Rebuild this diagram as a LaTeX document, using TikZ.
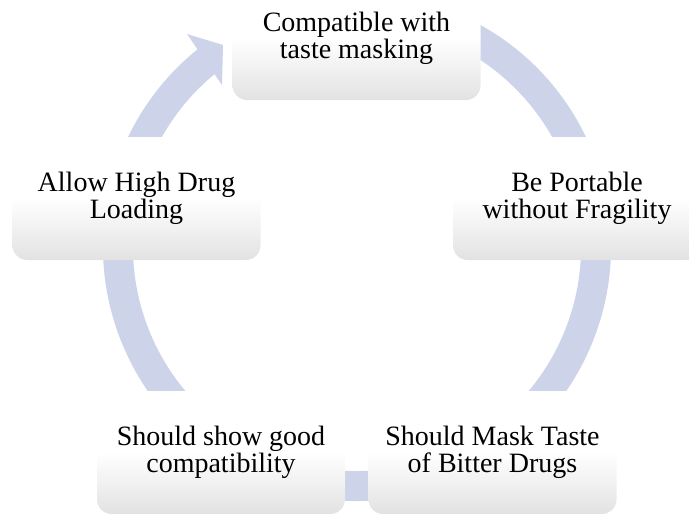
\documentclass[tikz,border=0pt]{standalone}
\usepackage{xcolor}
\usepackage{fontspec}
\setmainfont{Liberation Serif}
\usepackage{tikz}
\usetikzlibrary{arrows.meta, positioning, calc}
\definecolor{ringblue}{HTML}{CDD4EA}
\definecolor{boxgray}{HTML}{E2E2E2}

\begin{document}
\begin{tikzpicture}[
  x=0.75pt, y=-0.75pt,
  stage/.style={rectangle, rounded corners=11pt, minimum width=186pt,
                minimum height=92.25pt, inner sep=0pt, align=center,
                top color=white, bottom color=boxgray, middle color=white,
                font=\fontsize{21}{20.5}\selectfont},
  ring/.style={draw=ringblue, line width=22.5pt},
]
  \useasboundingbox (0,0) rectangle (689,514);

  % ring of the cycle, head at the top left
  \coordinate (hub) at (357,247);
  \draw[ring] (hub) ++(70:179.25pt) arc[start angle=70, end angle=-232, radius=179.25pt];
  \fill[ringblue] (187,34) -- (223,45) -- (222,85) -- cycle;

  \node[stage] (taste)    at (356.5,38.5)  {Compatible with\\taste masking};
  \node[stage] (portable) at (577,198.5)   {Be Portable\\without Fragility};
  \node[stage] (bitter)   at (492.5,452.5) {Should Mask Taste\\of Bitter Drugs};
  \node[stage] (compat)   at (221,452.5)   {Should show good\\compatibility};
  \node[stage] (loading)  at (136.5,198.5) {Allow High Drug\\Loading};
\end{tikzpicture}
\end{document}
